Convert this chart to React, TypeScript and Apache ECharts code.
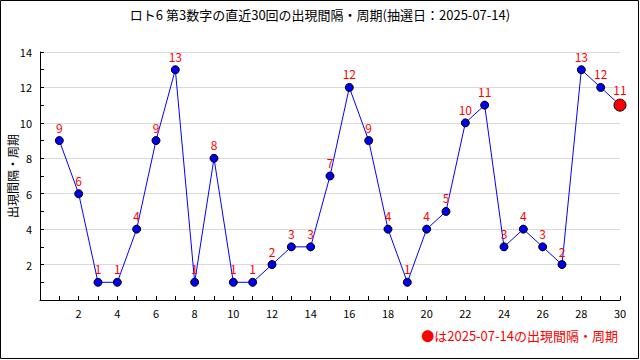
import React, { useEffect, useRef } from "react";
import * as echarts from "echarts";

const titleText = "ロト6 第3数字の直近30回の出現間隔・周期(抽選日：2025-07-14)";
const yAxisName = "出現間隔・周期";
const noteText = "●は2025-07-14の出現間隔・周期";
const draws = [1, 2, 3, 4, 5, 6, 7, 8, 9, 10, 11, 12, 13, 14, 15, 16, 17, 18, 19, 20, 21, 22, 23, 24, 25, 26, 27, 28, 29, 30];
const intervals = [9, 6, 1, 1, 4, 9, 13, 1, 8, 1, 1, 2, 3, 3, 7, 12, 9, 4, 1, 4, 5, 10, 11, 3, 4, 3, 2, 13, 12, 11];

export default function App() {
  const ref = useRef<HTMLDivElement>(null);
  useEffect(() => {
    document.body.style.margin = "0";
    const chart = echarts.init(ref.current!, null, { renderer: "svg" });
    const font = "'Noto Sans CJK JP', 'DejaVu Sans', sans-serif";
    const last = draws.length - 1;
    const data = draws.map((d, i) => {
      const item: any = { value: [d, intervals[i]] };
      if (i === last) {
        item.symbolSize = 12;
        item.itemStyle = { color: "#ff0000", borderColor: "#000", borderWidth: 1 };
      }
      return item;
    });
    chart.setOption({
      animation: false,
      backgroundColor: "#fff",
      textStyle: { fontFamily: font },
      title: {
        text: titleText,
        left: "center",
        top: 3,
        textStyle: { fontSize: 13, fontWeight: "normal", color: "#000", fontFamily: font },
      },
      grid: { left: 40, right: 20, top: 52, bottom: 60, containLabel: false, outerBoundsMode: "none" },
      xAxis: {
        type: "value",
        min: 0,
        max: 30,
        interval: 2,
        axisLine: { lineStyle: { color: "#000", width: 1 } },
        axisTick: { show: true, inside: true, length: 4, lineStyle: { color: "#000" } },
        minorTick: { show: true, splitNumber: 2, length: 4, lineStyle: { color: "#000" } },
        splitLine: { show: false },
        axisLabel: {
          color: "#000",
          fontSize: 11,
          margin: 7,
          formatter: (v: number) => (v === 0 ? "" : String(v)),
        },
      },
      yAxis: {
        type: "value",
        min: 0,
        max: 14,
        interval: 2,
        name: yAxisName,
        nameLocation: "middle",
        nameGap: 22,
        nameMoveOverlap: false,
        nameTextStyle: { fontSize: 12, color: "#000", fontFamily: font },
        axisLine: { show: true, lineStyle: { color: "#000", width: 1 } },
        axisTick: { show: true, inside: true, length: 4, lineStyle: { color: "#000" } },
        minorTick: { show: true, splitNumber: 2, length: 4, lineStyle: { color: "#000" } },
        splitLine: { show: true, lineStyle: { color: "#d9d9d9", width: 1 } },
        axisLabel: {
          color: "#000",
          fontSize: 11,
          margin: 8,
          formatter: (v: number) => (v === 0 ? "" : String(v)),
        },
      },
      series: [
        {
          type: "line",
          data,
          symbol: "circle",
          symbolSize: 8,
          lineStyle: { color: "#0000ff", width: 1 },
          itemStyle: { color: "#0000ee", borderColor: "#000", borderWidth: 1 },
          label: {
            show: true,
            position: "top",
            distance: 3,
            color: "#ff0000",
            fontSize: 12,
            fontFamily: font,
            formatter: (p: any) => String(p.value[1]),
          },
        },
      ],
      graphic: [
        {
          type: "rect",
          shape: { x: 0.5, y: 0.5, width: 638, height: 358 },
          style: { fill: "none", stroke: "#000", lineWidth: 1 },
          silent: true,
        },
        {
          type: "text",
          x: 618,
          y: 335,
          style: {
            text: noteText,
            fill: "#ff0000",
            fontSize: 13,
            fontFamily: font,
            align: "right",
            verticalAlign: "middle",
          },
        },
      ],
    });
    return () => chart.dispose();
  }, []);
  return <div ref={ref} style={{ width: 640, height: 360 }} />;
}
